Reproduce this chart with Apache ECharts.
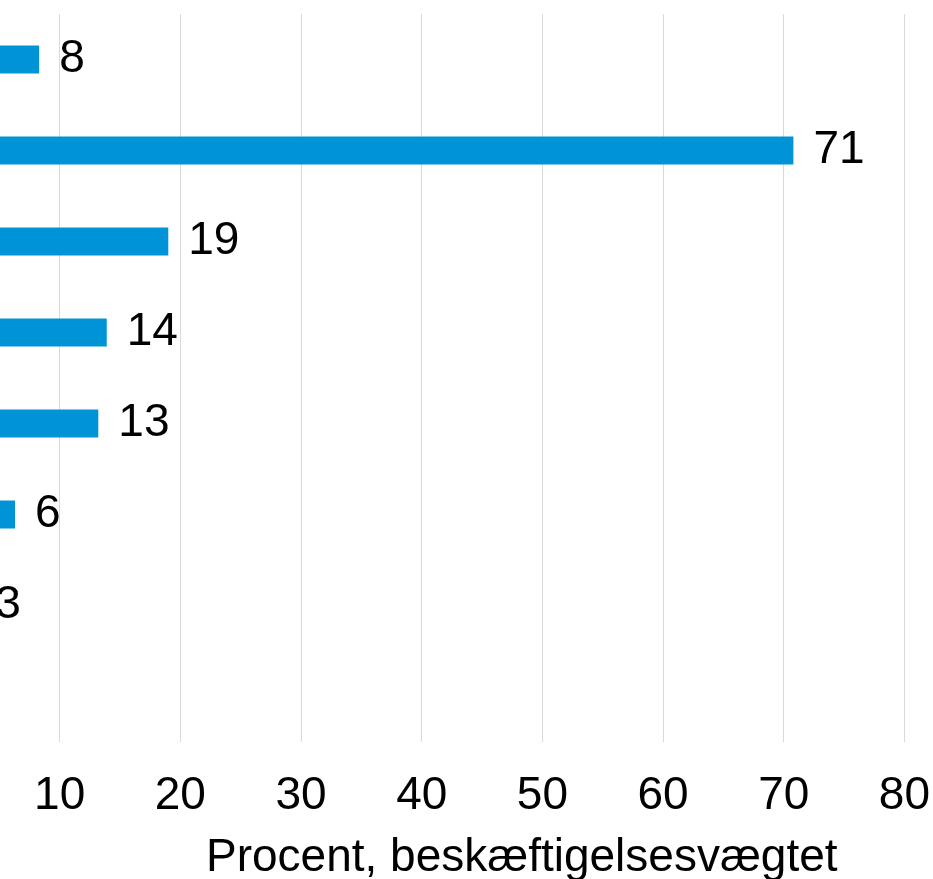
<!DOCTYPE html>
<html>
<head>
<meta charset="utf-8">
<script src="https://cdn.jsdelivr.net/npm/echarts@6/dist/echarts.min.js"></script>
<style>
html,body{margin:0;padding:0;background:#fff;overflow:hidden}
#wrap{position:relative;width:933px;height:879px;overflow:hidden}
#c{position:absolute;left:-100px;top:0;width:1033px;height:879px}
</style>
</head>
<body>
<div id="wrap"><div id="c"></div></div>
<script>
const categories = ['Kategori 1','Kategori 2','Kategori 3','Kategori 4','Kategori 5','Kategori 6','Kategori 7','Kategori 8'];
const values = [8.3, 70.8, 19.0, 13.9, 13.2, 6.3, 3.0, null];
const xTicks = [0, 10, 20, 30, 40, 50, 60, 70, 80];
const axisTitle = 'Procent, beskæftigelsesvægtet';

const SHIFT = 100;
const FONT = '"Liberation Sans", Arial, Helvetica, sans-serif';
const chart = echarts.init(document.getElementById('c'), null, {renderer: 'canvas'});
chart.setOption({
  animation: false,
  backgroundColor: '#ffffff',
  title: {
    text: axisTitle,
    left: 201 + SHIFT, top: 830,
    textStyle: {fontFamily: FONT, fontSize: 46, fontWeight: 'normal', color: '#000'}
  },
  grid: {left: SHIFT - 61, right: 27, top: 14, bottom: 137, containLabel: false},
  xAxis: {
    type: 'value', min: xTicks[0], max: xTicks[xTicks.length - 1], interval: 10,
    axisLine: {show: false}, axisTick: {show: false},
    splitLine: {show: true, lineStyle: {color: '#d9d9d9', width: 1}},
    axisLabel: {fontFamily: FONT, fontSize: 46, color: '#000', margin: 31}
  },
  yAxis: {
    type: 'category', data: categories, inverse: true,
    axisLine: {show: false}, axisTick: {show: false}, axisLabel: {show: false}
  },
  series: [{
    type: 'bar', data: values, barWidth: 28,
    itemStyle: {color: '#0093d5'},
    label: {
      show: true, position: 'right', distance: 20,
      fontFamily: FONT, fontSize: 46, color: '#000',
      formatter: p => Math.round(p.value)
    }
  }]
});
</script>
</body>
</html>
